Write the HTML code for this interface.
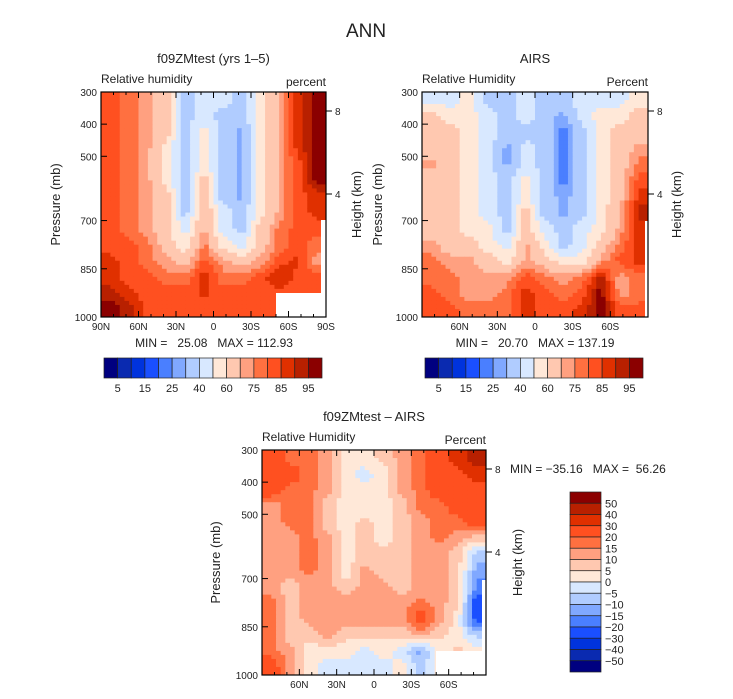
<!DOCTYPE html>
<html><head><meta charset="utf-8"><style>
body{margin:0;background:#fff;width:733px;height:699px;overflow:hidden}
svg{display:block;font-family:"Liberation Sans",sans-serif}
.pre{white-space:pre}
</style></head><body>
<svg id="s" width="733" height="699">
<text x="366" y="37" font-size="19" text-anchor="middle" fill="#222">ANN</text>
</svg>
<script>
const palette=["#000080","#0a2ab0","#0033dd","#1a4fff","#4a7fff","#80a8ff","#b0ccff","#d8e8ff","#ffe8d8","#ffc8b0","#ffa080","#ff7040","#ff5020","#e03000","#b82000","#8b0000"];
const rhLevels=[5,10,15,20,25,30,40,50,60,70,75,80,85,90,95];
const diffLevels=[-50,-40,-30,-20,-15,-10,-5,0,5,10,15,20,30,40,50];
const latCenters=[82.5,67.5,52.5,37.5,22.5,7.5,-7.5,-22.5,-37.5,-52.5,-67.5,-82.5];
const presCenters=[325,375,425,475,525,575,625,675,725,775,825,875,925,975];
const modelRH=[
[82,77,72,65,35,45,45,35,55,72,87,98],
[82,77,72,65,35,45,35,35,55,72,87,98],
[82,77,72,65,35,55,35,27,55,72,87,98],
[82,77,72,55,35,55,35,27,55,72,87,98],
[82,77,72,55,35,55,35,27,55,72,82,98],
[82,77,72,55,35,65,35,27,55,72,82,98],
[82,77,72,65,35,65,35,27,55,72,82,87],
[82,77,72,65,35,72,45,35,55,72,82,87],
[82,77,72,65,45,72,45,35,65,77,82,82],
[82,82,77,65,55,77,55,45,65,77,82,77],
[87,82,77,72,65,82,72,65,72,82,87,72],
[87,82,82,77,77,87,77,77,82,92,82,82],
[92,87,82,82,82,87,82,82,82,82,82,82],
[98,92,82,82,82,82,82,82,82,82,82,82]];
const airsRH=[
[45,45,55,35,35,45,35,35,45,45,45,55],
[65,55,55,45,35,45,35,27,45,55,55,65],
[65,65,55,45,35,35,35,22,35,55,65,65],
[65,65,55,45,27,45,35,22,35,55,65,72],
[72,65,55,45,27,45,35,22,35,55,65,77],
[65,65,55,45,35,55,35,22,35,55,65,82],
[65,65,55,45,35,55,35,27,35,55,65,87],
[65,65,55,45,35,65,35,27,35,55,72,92],
[65,65,55,55,35,65,45,35,45,55,72,87],
[72,65,65,55,45,72,55,35,45,65,77,87],
[77,72,72,65,55,72,65,55,55,72,82,87],
[77,77,72,72,72,82,77,72,77,92,72,77],
[82,77,72,72,77,87,82,77,82,98,72,77],
[82,82,77,77,77,87,82,82,87,98,82,82]];
const diffRH=[
[25,17,17,12,2,2,7,12,17,25,35,45],
[25,25,17,12,2,-2,2,12,17,25,25,35],
[25,17,17,12,2,2,2,12,17,25,25,25],
[12,17,17,7,2,2,2,7,17,17,25,25],
[12,17,17,7,2,7,2,7,12,17,17,25],
[12,12,17,12,2,7,2,7,12,17,12,7],
[12,12,17,12,2,7,7,7,12,12,7,-7],
[12,12,17,12,2,12,7,7,12,12,7,-12],
[12,7,12,12,7,12,12,7,12,12,7,-17],
[17,7,12,12,12,12,12,12,17,12,7,-25],
[17,7,12,12,12,12,12,12,25,12,2,-25],
[17,7,7,12,7,7,7,7,12,7,2,-7],
[17,12,2,2,2,-2,2,-2,-12,2,7,2],
[25,12,2,-2,-2,-2,-2,2,-7,2,2,2]];
const rhTickLabels=["5","15","25","40","60","75","85","95"];
const diffTickLabels=["50","40","30","20","15","10","5","0","\u22125","\u221210","\u221215","\u221220","\u221230","\u221240","\u221250"];
const presTicks=[300,400,500,700,850,1000];
const latTicks=[90,60,30,0,-30,-60,-90];
const latNames={"90":"90N","60":"60N","30":"30N","0":"0","-30":"30S","-60":"60S","-90":"90S"};
const heightTicks=[[8,111],[4,194]];

const S=document.getElementById('s');const NS="http://www.w3.org/2000/svg";
function mk(tag,at,txt,parent){const e=document.createElementNS(NS,tag);for(const k in at)e.setAttribute(k,at[k]);if(txt!==undefined)e.textContent=txt;(parent||S).appendChild(e);return e;}
function colorIdx(v,lev){let i=0;while(i<lev.length&&v>=lev[i])i++;return i;}
function sample(data,fr,fc){ // fractional row/col index in cell-center space (display smoothing)
  const R=data.length-1,C=data[0].length-1;
  fr=Math.max(0,Math.min(R,fr));fc=Math.max(0,Math.min(C,fc));
  const r0=Math.floor(fr),c0=Math.floor(fc),r1=Math.min(R,r0+1),c1=Math.min(C,c0+1);
  const a=fr-r0,b=fc-c0;
  return data[r0][c0]*(1-a)*(1-b)+data[r0][c1]*(1-a)*b+data[r1][c0]*a*(1-b)+data[r1][c1]*a*b;
}
const SUB=4;
function panel(P){
  const g=mk('g',{});
  
  
  const W=P.x1-P.x0,H=P.y1-P.y0;
  const xs=lat=>P.x0+(90-lat)/180*W;
  const ys=p=>P.y0+(p-300)/700*H;
  const cw=W/12/SUB,ch=H/14/SUB;
  for(let r=0;r<P.data.length;r++)for(let c=0;c<P.data[r].length;c++){
    const x=xs(latCenters[c]+7.5),y=ys(presCenters[r]-25);
    for(let i=0;i<SUB;i++)for(let j=0;j<SUB;j++){
      const fr=r+(i+0.5)/SUB-0.5,fc=c+(j+0.5)/SUB-0.5;
      const v=sample(P.data,fr,fc);
      const e=mk('rect',{x:(x+j*cw).toFixed(2),y:(y+i*ch).toFixed(2),width:(cw+0.4).toFixed(2),height:(ch+0.4).toFixed(2),fill:palette[colorIdx(v,P.levels)]},undefined,g);
      
      
    }
  }
  P.masks.forEach(m=>{const e=mk('rect',{x:m[0],y:m[1],width:m[2],height:m[3],fill:'#fff'},undefined,g);
    
    });
  const f=mk('rect',{x:P.x0,y:P.y0,width:W,height:H,fill:'none',stroke:'#000','stroke-width':1.2},undefined,g);
  
  
  for(let lat=90;lat>=-90;lat-=10){const x=xs(lat);const maj=lat%30===0;
    mk('line',{x1:x,x2:x,y1:P.y0,y2:P.y0+(maj?6:3),stroke:'#000'},undefined,g);
    mk('line',{x1:x,x2:x,y1:P.y1,y2:P.y1-(maj?6:3),stroke:'#000'},undefined,g);}
  latTicks.forEach(lat=>{if(!P.allLat&&Math.abs(lat)===90)return;
    const t=mk('text',{x:xs(lat),y:P.y1+13,'font-size':10,'text-anchor':'middle',fill:'#222'},latNames[lat],g);
    
    });
  presTicks.forEach(p=>{const y=ys(p);mk('line',{x1:P.x0,x2:P.x0+6,y1:y,y2:y,stroke:'#000'},undefined,g);
    const t=mk('text',{x:P.x0-4,y:y+4,'font-size':10,'text-anchor':'end',fill:'#222'},String(p),g);
    
    });
  heightTicks.forEach(h=>{const y=P.y0+(h[1]-92);mk('line',{x1:P.x1,x2:P.x1+6,y1:y,y2:y,stroke:'#000'},undefined,g);
    const t=mk('text',{x:P.x1+9,y:y+4,'font-size':10,fill:'#222'},String(h[0]),g);
    
    });
  const tt=mk('text',{x:(P.x0+P.x1)/2,y:P.y0-29,'font-size':13,'text-anchor':'middle',fill:'#222'},P.title,g);
  
  
  const l1=mk('text',{x:P.x0,y:P.y0-9,'font-size':12,fill:'#222'},P.left,g);
  
  
  const l2=mk('text',{x:P.x1,y:P.y0-6,'font-size':12,'text-anchor':'end',fill:'#222'},P.right,g);
  
  
  const yl=mk('text',{x:0,y:0,'font-size':13,'text-anchor':'middle',fill:'#222',transform:`translate(${P.px},${(P.y0+P.y1)/2}) rotate(-90)`},'Pressure (mb)',g);
  
  
  const hl=mk('text',{x:0,y:0,'font-size':13,'text-anchor':'middle',fill:'#222',transform:`translate(${P.hx},${(P.y0+P.y1)/2}) rotate(-90)`},'Height (km)',g);
  
  
  const mm=mk('text',{x:P.mmx,y:P.mmy,'font-size':12,fill:'#222','text-anchor':P.mma,'class':'pre'},P.mm,g);
  
  
}
function hbar(x0,y0,w,h){const g=mk('g',{});
  
  
  const bw=w/16;
  for(let i=0;i<16;i++){const e=mk('rect',{x:x0+i*bw,y:y0,width:bw,height:h,fill:palette[i],stroke:'#222','stroke-width':0.7},undefined,g);
    
    }
  rhTickLabels.forEach((t,i)=>{const e=mk('text',{x:x0+(2*i+1)*bw,y:y0+h+14,'font-size':11,'text-anchor':'middle',fill:'#222'},t,g);
    
    });
}
function vbar(x0,y0,w,h){const g=mk('g',{});
  
  
  const bh=h/16;
  for(let i=0;i<16;i++){const e=mk('rect',{x:x0,y:y0+i*bh,width:w,height:bh,fill:palette[15-i],stroke:'#222','stroke-width':0.7},undefined,g);
    
    }
  diffTickLabels.forEach((t,i)=>{const e=mk('text',{x:x0+w+4,y:y0+(i+1)*bh+4,'font-size':11,fill:'#222'},t,g);
    
    });
}
panel({name:'panel-model',x0:101,x1:326,y0:92,y1:317,data:modelRH,levels:rhLevels,allLat:true,
  masks:[[276,293,50,24],[321,220,5,97]],title:'f09ZMtest (yrs 1\u20135)',left:'Relative humidity',right:'percent',
  px:60,hx:361,mm:'MIN =   25.08   MAX = 112.93',mmx:214,mmy:347,mma:'middle'});
panel({name:'panel-airs',x0:422,x1:648,y0:92,y1:317,data:airsRH,levels:rhLevels,allLat:false,
  masks:[[645,221,3,96]],title:'AIRS',left:'Relative Humidity',right:'Percent',
  px:382,hx:681,mm:'MIN =   20.70   MAX = 137.19',mmx:535,mmy:347,mma:'middle'});
panel({name:'panel-diff',x0:262,x1:486,y0:450,y1:675,data:diffRH,levels:diffLevels,allLat:false,
  masks:[[436,651,50,24],[482,580,4,95]],title:'f09ZMtest \u2013 AIRS',left:'Relative Humidity',right:'Percent',
  px:220,hx:522,mm:'MIN = \u221235.16   MAX =  56.26',mmx:510,mmy:473,mma:'start'});
hbar(104,358,218,20);
hbar(425,358,218,20);
vbar(570,492,31,180);
</script>
</body></html>
